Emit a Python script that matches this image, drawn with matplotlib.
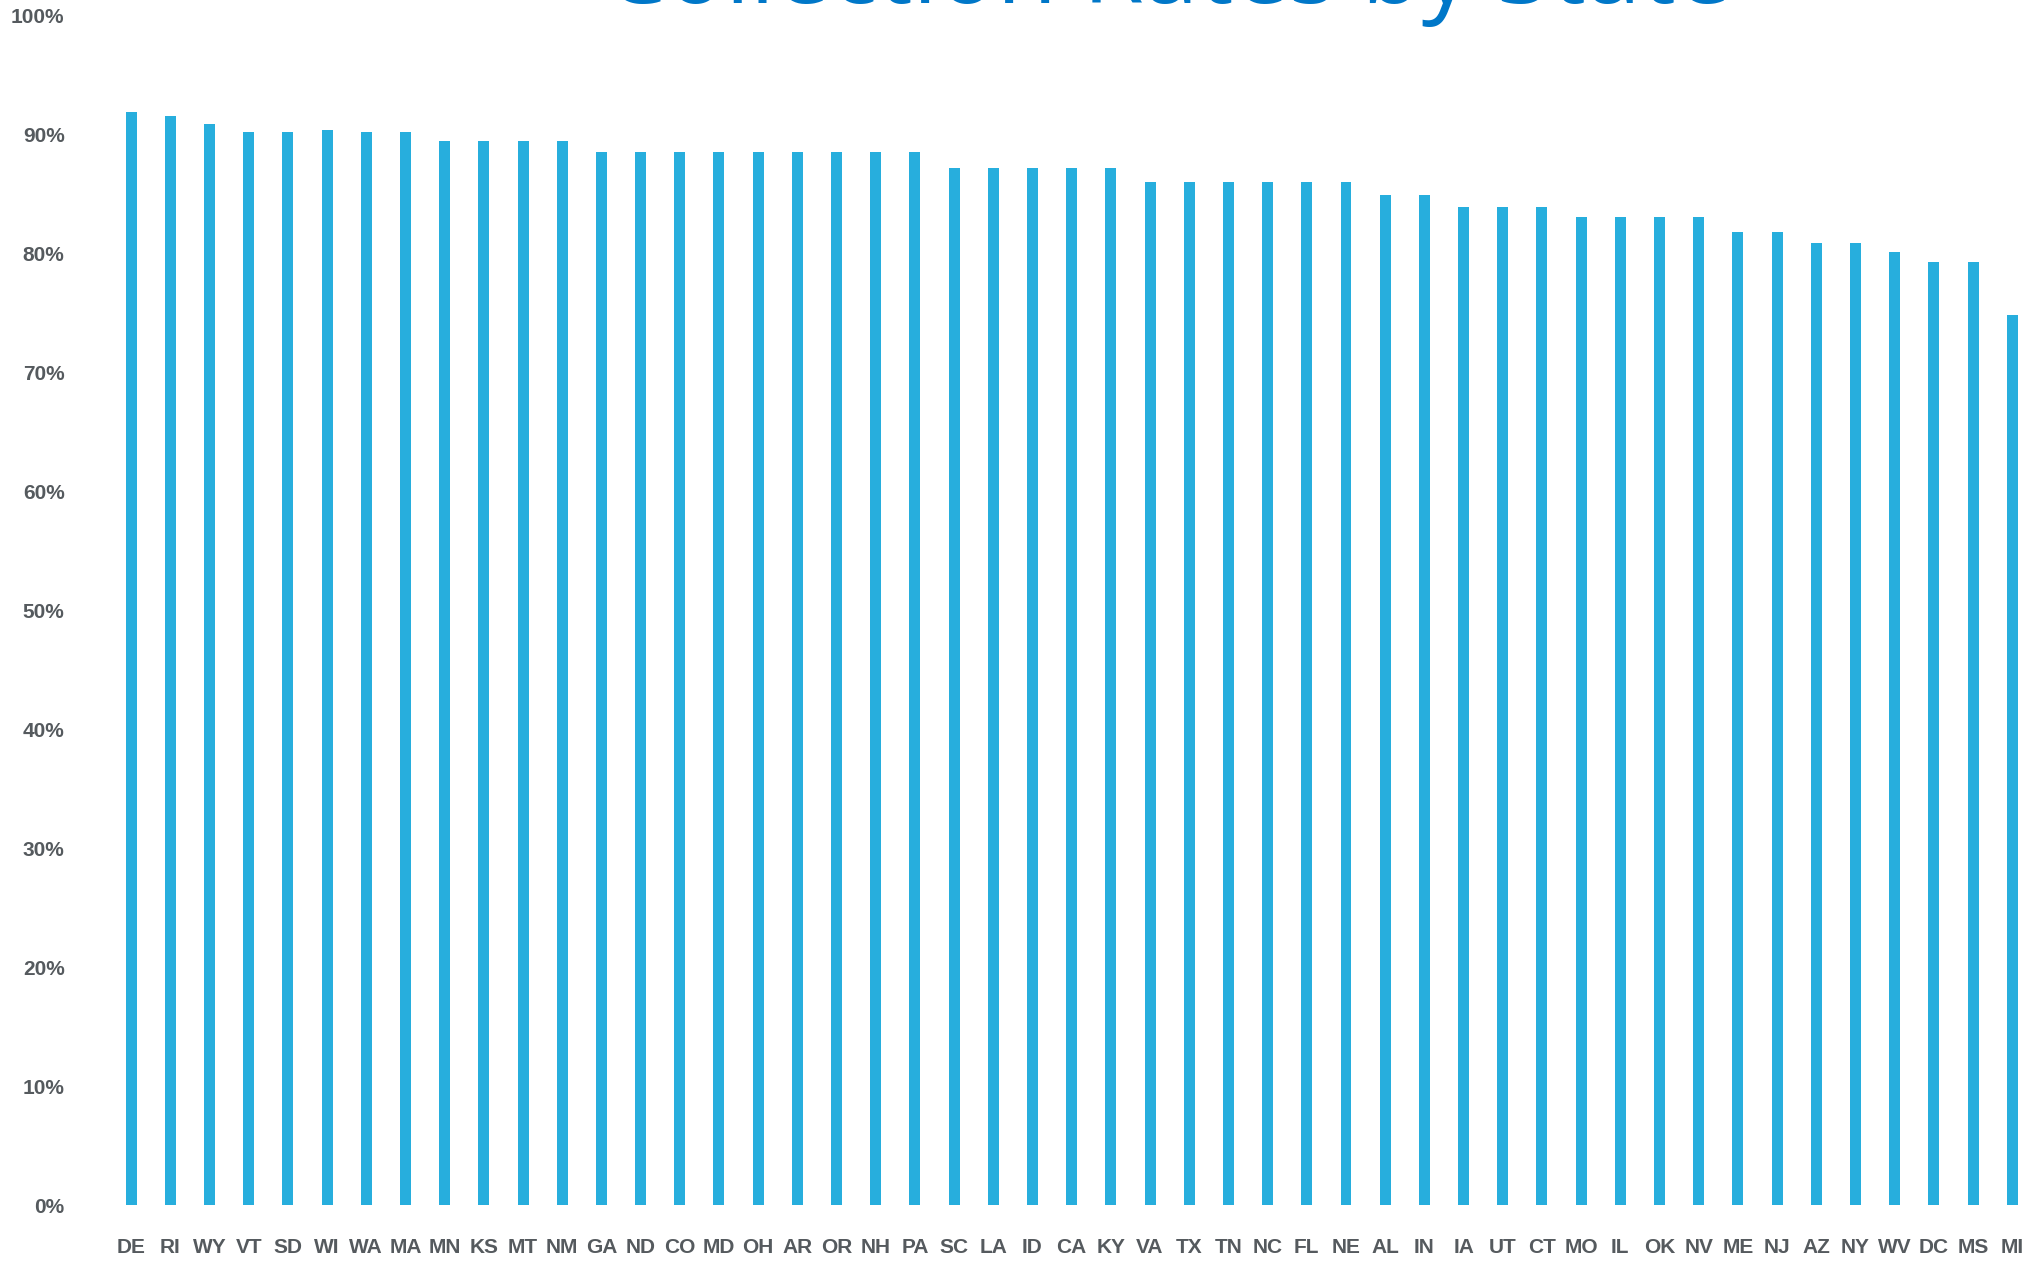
import matplotlib.pyplot as plt
import matplotlib as mpl
from matplotlib.ticker import PercentFormatter

mpl.rcParams['font.family'] = 'Liberation Sans'

# Collection rate per state, sorted high to low (values in %)
states = ['DE', 'RI', 'WY', 'VT', 'SD', 'WI', 'WA', 'MA', 'MN', 'KS', 'MT', 'NM',
          'GA', 'ND', 'CO', 'MD', 'OH', 'AR', 'OR', 'NH', 'PA', 'SC', 'LA', 'ID',
          'CA', 'KY', 'VA', 'TX', 'TN', 'NC', 'FL', 'NE', 'AL', 'IN', 'IA', 'UT',
          'CT', 'MO', 'IL', 'OK', 'NV', 'ME', 'NJ', 'AZ', 'NY', 'WV', 'DC', 'MS', 'MI']
rates = [91.9, 91.6, 90.9, 90.2, 90.2, 90.4, 90.2, 90.2, 89.5, 89.5, 89.5, 89.5,
         88.5, 88.5, 88.5, 88.5, 88.5, 88.5, 88.5, 88.5, 88.5, 87.2, 87.2, 87.2,
         87.2, 87.2, 86.0, 86.0, 86.0, 86.0, 86.0, 86.0, 84.9, 84.9, 83.9, 83.9,
         83.9, 83.1, 83.1, 83.1, 83.1, 81.8, 81.8, 80.9, 80.9, 80.1, 79.3, 79.3, 74.8]
y_ticks = list(range(0, 101, 10))

BAR = '#27AEDD'
TXT = '#555a5e'

fig = plt.figure(figsize=(20.34, 12.61), dpi=100)
ax = fig.add_axes([0.0529, 0.0444, 0.947, 0.9432])

x = range(len(states))
ax.bar(x, rates, width=0.28, color=BAR, zorder=2)

ax.set_xlim(-0.6, len(states) - 0.45)
ax.set_ylim(0, 100)
ax.set_yticks(y_ticks)
ax.yaxis.set_major_formatter(PercentFormatter(decimals=0))
ax.set_xticks(list(x))
ax.set_xticklabels(states)

for s in ax.spines.values():
    s.set_visible(False)
ax.tick_params(axis='both', length=0, colors=TXT)
ax.tick_params(axis='y', pad=31, labelsize=15)
ax.tick_params(axis='x', pad=24, labelsize=15)
for lbl in ax.get_xticklabels() + ax.get_yticklabels():
    lbl.set_fontweight('bold')
    lbl.set_color(TXT)

# title sits mostly above the visible frame, as in the source slide
fig.text(0.574, 0.998, 'Collection Rates by State', ha='center', va='baseline',
         fontsize=71, color='#0077C8', family='Open Sans')

plt.savefig('out.png', dpi=100)
plt.close()
